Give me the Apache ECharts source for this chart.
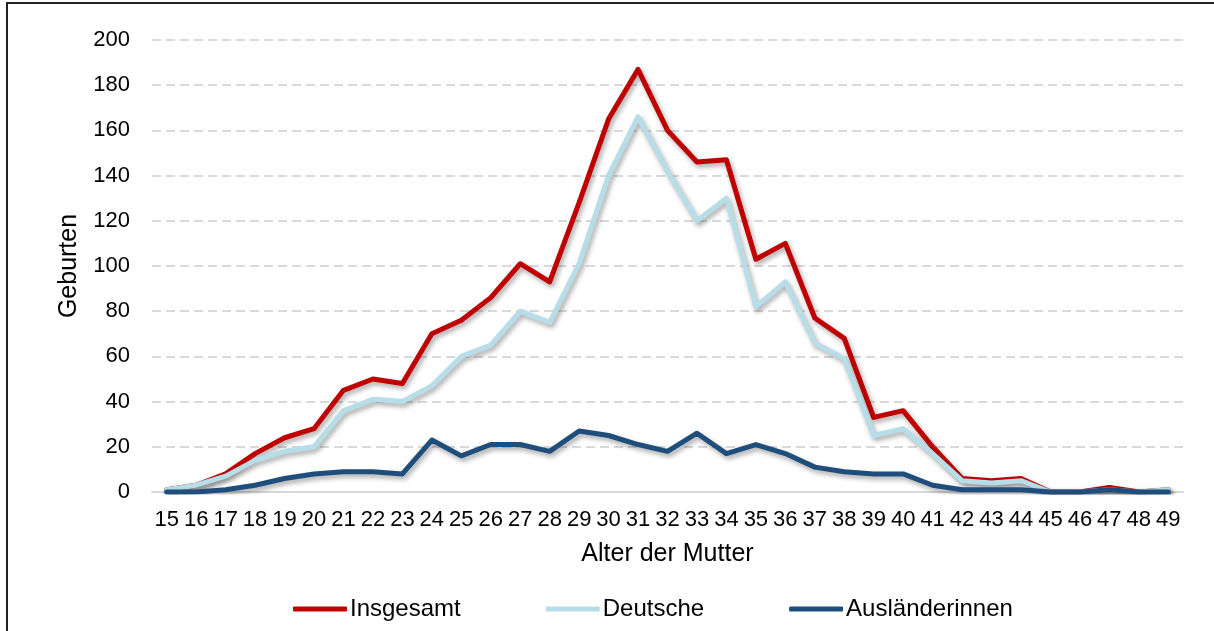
<!DOCTYPE html>
<html>
<head>
<meta charset="utf-8">
<style>
  html, body { margin: 0; padding: 0; background: #fff; }
  #chart { position: absolute; left: 0; top: 0; width: 1214px; height: 631px; }
  #frame { position: absolute; left: 6px; top: 2px; width: 1208px; height: 629px;
           border-top: 2px solid #222; border-left: 2px solid #222; pointer-events: none; }
</style>
<script src="https://cdn.jsdelivr.net/npm/echarts@6/dist/echarts.min.js"></script>
</head>
<body>
<div id="chart"></div>
<div id="frame"></div>
<script>
(function() {
  var ages = ['15','16','17','18','19','20','21','22','23','24','25','26','27','28','29','30','31','32',
              '33','34','35','36','37','38','39','40','41','42','43','44','45','46','47','48','49'];
  var insgesamt = [1, 3, 8, 17, 24, 28, 45, 50, 48, 70, 76, 86, 101, 93, 128, 165, 187, 160,
                   146, 147, 103, 110, 77, 68, 33, 36, 20, 6, 5, 6, 0, 0, 2, 0, 1];
  var deutsche = [1, 3, 7, 14, 18, 20, 36, 41, 40, 47, 60, 65, 80, 75, 101, 140, 166, 142,
                  120, 130, 82, 93, 66, 59, 25, 28, 17, 5, 4, 5, 0, 0, 1, 0, 1];
  var auslaenderinnen = [0, 0, 1, 3, 6, 8, 9, 9, 8, 23, 16, 21, 21, 18, 27, 25, 21, 18,
                         26, 17, 21, 17, 11, 9, 8, 8, 3, 1, 1, 1, 0, 0, 1, 0, 0];
  var yTicks = { min: 0, max: 200, interval: 20 };

  var red = '#C00000';
  var light = '#B7DEE8';
  var dark = '#1F4E7D';
  var font = 'Liberation Sans, Arial, sans-serif';

  function lineSeries(name, data, color) {
    return {
      name: name,
      type: 'line',
      data: data,
      symbol: 'none',
      lineStyle: {
        color: color, width: 5, cap: 'round', join: 'round',
        shadowColor: 'rgba(0,0,0,0.35)', shadowBlur: 5, shadowOffsetX: 2, shadowOffsetY: 3
      },
      itemStyle: { color: color }
    };
  }

  var chart = echarts.init(document.getElementById('chart'), null, { renderer: 'canvas' });
  chart.setOption({
    animation: false,
    grid: { left: 152, right: 31, top: 40, bottom: 139 },
    xAxis: {
      type: 'category',
      data: ages,
      boundaryGap: true,
      name: 'Alter der Mutter',
      nameLocation: 'middle',
      nameGap: 50,
      nameTextStyle: { color: '#000', fontSize: 25, fontFamily: font },
      axisLine: { lineStyle: { color: '#D9D9D9', width: 2 } },
      axisTick: { show: false },
      axisLabel: { interval: 0, color: '#000', fontSize: 22, fontFamily: font, margin: 17 }
    },
    yAxis: {
      type: 'value',
      min: yTicks.min,
      max: yTicks.max,
      interval: yTicks.interval,
      name: 'Geburten',
      nameLocation: 'middle',
      nameGap: 70,
      nameTextStyle: { color: '#000', fontSize: 25, fontFamily: font },
      axisLine: { show: false },
      axisTick: { show: false },
      axisLabel: { color: '#000', fontSize: 22, fontFamily: font, margin: 22 },
      splitLine: { lineStyle: { color: '#D9D9D9', width: 2, type: [9, 5] } }
    },
    legend: {
      left: 288,
      top: 592,
      itemGap: 85,
      itemWidth: 54,
      itemHeight: 5,
      icon: 'roundRect',
      textStyle: { color: '#000', fontSize: 24, fontFamily: font, padding: [0, 0, 0, -2] },
      data: ['Insgesamt', 'Deutsche', 'Ausländerinnen']
    },
    series: [
      lineSeries('Insgesamt', insgesamt, red),
      lineSeries('Deutsche', deutsche, light),
      lineSeries('Ausländerinnen', auslaenderinnen, dark)
    ]
  });
  window.addEventListener('resize', function() { chart.resize(); });
})();
</script>
</body>
</html>
